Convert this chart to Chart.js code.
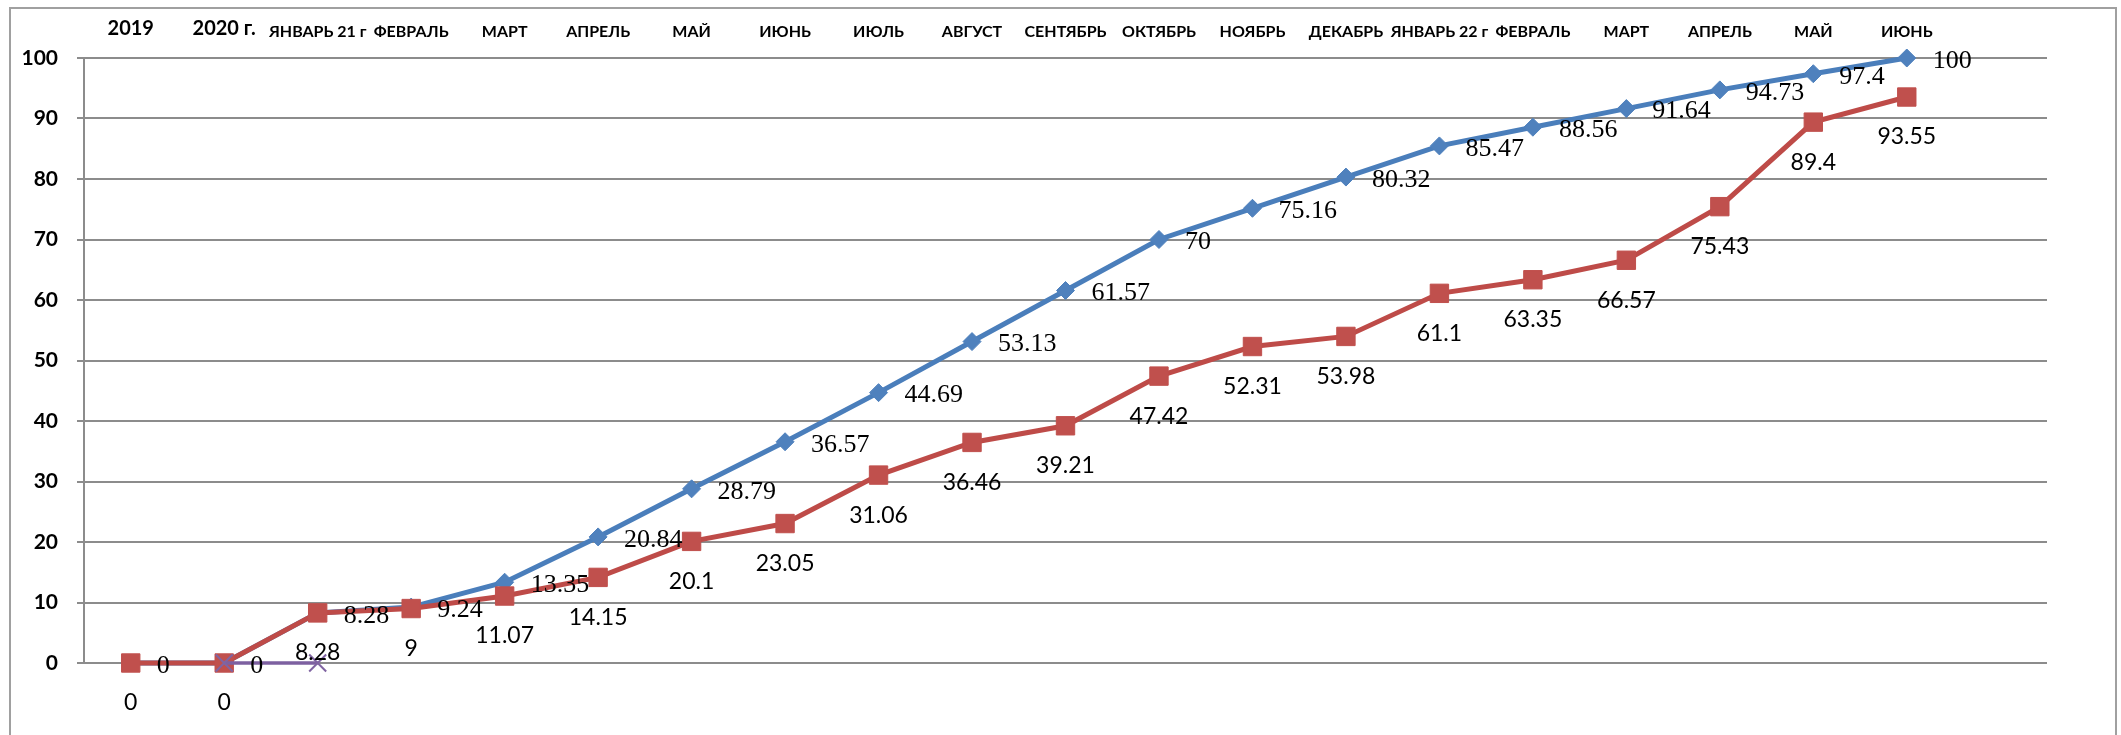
<!DOCTYPE html>
<html>
<head>
<meta charset="utf-8">
<script src="https://cdn.jsdelivr.net/npm/chart.js"></script>
<style>
html, body { margin: 0; padding: 0; background: #fff; overflow: hidden; }
#caixa { position: relative; width: 2121px; height: 735px; }
#moldura { position: absolute; left: 9px; top: 7px; width: 2104px; height: 800px; border: 2px solid #a0a0a0; pointer-events: none; }
</style>
</head>
<body>
<div id="caixa"><canvas id="grafico"></canvas><div id="moldura"></div></div>
<script>
// Categorias do eixo X (a última fica vazia, como no original)
const categorias = ["2019", "2020 г.", "ЯНВАРЬ 21 г", "ФЕВРАЛЬ", "МАРТ", "АПРЕЛЬ", "МАЙ", "ИЮНЬ", "ИЮЛЬ",
    "АВГУСТ", "СЕНТЯБРЬ", "ОКТЯБРЬ", "НОЯБРЬ", "ДЕКАБРЬ", "ЯНВАРЬ 22 г", "ФЕВРАЛЬ", "МАРТ", "АПРЕЛЬ",
    "МАЙ", "ИЮНЬ", ""];

// Série azul (plano)
const serieAzul = [0, 0, 8.28, 9.24, 13.35, 20.84, 28.79, 36.57, 44.69, 53.13, 61.57, 70, 75.16, 80.32,
    85.47, 88.56, 91.64, 94.73, 97.4, 100];

// Série vermelha (realizado)
const serieVermelha = [0, 0, 8.28, 9, 11.07, 14.15, 20.1, 23.05, 31.06, 36.46, 39.21, 47.42, 52.31, 53.98,
    61.1, 63.35, 66.57, 75.43, 89.4, 93.55];

// Série roxa (só dois pontos no começo)
const serieRoxa = [null, 0, 0];

// Eixo Y
const yMin = 0;
const yMax = 100;
const yPasso = 10;

const fonteSans = "Lato, 'Noto Sans', sans-serif";
const fonteSerif = "'Liberation Serif', 'DejaVu Serif', serif";

// Plugin simples para escrever os valores ao lado dos pontos
const rotulos = {
    id: "rotulos",
    afterDatasetsDraw(chart) {
        const ctx = chart.ctx;
        chart.data.datasets.forEach((ds, i) => {
            if (!ds.rotulo) return;
            const meta = chart.getDatasetMeta(i);
            ctx.save();
            ctx.font = ds.rotulo.font;
            ctx.fillStyle = "#000";
            ctx.textAlign = ds.rotulo.align;
            ctx.textBaseline = "middle";
            meta.data.forEach((p, j) => {
                const v = ds.data[j];
                if (v === null || v === undefined) return;
                ctx.fillText(String(v), p.x + ds.rotulo.dx, p.y + ds.rotulo.dy);
            });
            ctx.restore();
        });
    }
};

const ctx = document.getElementById("grafico");

new Chart(ctx, {
    type: "line",
    data: {
        labels: categorias,
        datasets: [
            {
                data: serieAzul,
                borderColor: "#4a7ebb",
                borderWidth: 5,
                pointStyle: "rectRot",
                pointRadius: 9,
                pointBackgroundColor: "#4f81bd",
                pointBorderColor: "#4f81bd",
                pointBorderWidth: 1,
                tension: 0,
                clip: false,
                order: 2,
                rotulo: { font: "26px " + fonteSerif, align: "left", dx: 26, dy: 3 }
            },
            {
                data: serieVermelha,
                borderColor: "#be4b48",
                borderWidth: 5,
                pointStyle: "rect",
                pointRadius: 13,
                pointBackgroundColor: "#c0504d",
                pointBorderColor: "#c0504d",
                pointBorderWidth: 1,
                tension: 0,
                clip: false,
                order: 1,
                rotulo: { font: "23px " + fonteSans, align: "center", dx: 0, dy: 40 }
            },
            {
                data: serieRoxa,
                borderColor: "#7d60a0",
                borderWidth: 3.5,
                pointStyle: "crossRot",
                pointRadius: 12,
                pointBorderColor: "#8064a2",
                pointBorderWidth: 2,
                tension: 0,
                clip: false,
                order: 0
            }
        ]
    },
    options: {
        responsive: true,
        maintainAspectRatio: false,
        animation: false,
        layout: { padding: { left: 0, top: 0, right: 74, bottom: 72 } },
        plugins: {
            legend: { display: false },
            tooltip: { enabled: false }
        },
        scales: {
            x: {
                type: "category",
                position: "top",
                offset: true,
                grid: { display: false, drawTicks: false },
                border: { display: false },
                ticks: {
                    color: "#000",
                    padding: 17,
                    autoSkip: false,
                    maxRotation: 0,
                    // anos com fonte maior, meses menores
                    font: (c) => /^\d/.test(categorias[c.index] || "")
                        ? { family: fonteSans, size: 20, weight: "bold" }
                        : { family: fonteSans, size: 16, weight: "bold" }
                },
                afterFit(s) { s.height = 58; }
            },
            y: {
                min: yMin,
                max: yMax,
                ticks: {
                    stepSize: yPasso,
                    color: "#000",
                    padding: 19,
                    font: { family: fonteSans, size: 21, weight: "bold" }
                },
                grid: { color: "#8c8c8c", lineWidth: 2, tickLength: 7 },
                border: { color: "#8c8c8c", width: 2 },
                afterFit(s) { s.width = 84; }
            }
        }
    },
    plugins: [rotulos]
});
</script>
</body>
</html>
